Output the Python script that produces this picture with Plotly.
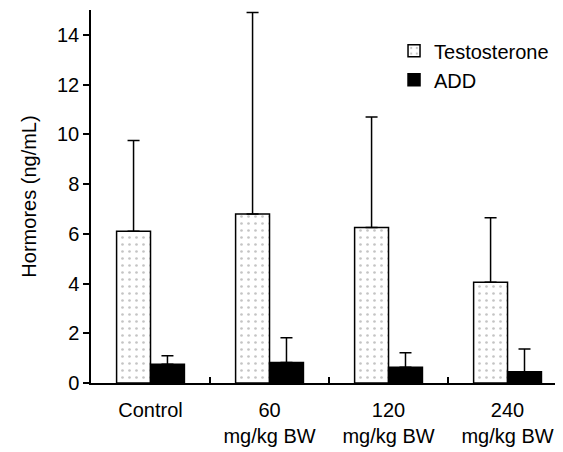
import plotly.graph_objects as go

categories = ["Control", "60<br>mg/kg BW", "120<br>mg/kg BW", "240<br>mg/kg BW"]
testosterone = [6.1, 6.8, 6.25, 4.05]
testosterone_err = [3.65, 8.1, 4.45, 2.6]
add = [0.75, 0.82, 0.63, 0.45]
add_err = [0.35, 1.0, 0.59, 0.92]

FONT = "Liberation Sans, Arial, sans-serif"
FS = 20

fig = go.Figure()
fig.add_trace(go.Bar(
    name="Testosterone", x=categories, y=testosterone,
    marker=dict(color="white", line=dict(color="black", width=1.5),
                pattern=dict(shape=".", fgcolor="#8a8a8a", bgcolor="white", size=7, solidity=0.12)),
    error_y=dict(type="data", symmetric=False, array=testosterone_err,
                 arrayminus=[0] * 4, color="black", thickness=1.5, width=6),
))
fig.add_trace(go.Bar(
    name="ADD", x=categories, y=add,
    marker=dict(color="black", line=dict(color="black", width=1.5)),
    error_y=dict(type="data", symmetric=False, array=add_err,
                 arrayminus=[0] * 4, color="black", thickness=1.5, width=6),
))

fig.update_layout(
    width=555, height=444,
    margin=dict(l=83, r=0, t=2, b=69),
    paper_bgcolor="white", plot_bgcolor="white",
    barmode="group", bargap=0.43, bargroupgap=0,
    font=dict(family=FONT, size=FS, color="black"),
    showlegend=True,
    legend=dict(x=0.642, y=0.943, xanchor="left", yanchor="top",
                bgcolor="rgba(0,0,0,0)", font=dict(size=FS), tracegroupgap=0),
    xaxis=dict(range=[-0.5, 3.466], showline=True, linecolor="black", linewidth=1.5,
               ticks="inside", tickson="boundaries", ticklen=6, tickcolor="black",
               tickwidth=1.5, showgrid=False, tickfont=dict(size=FS),
               ticklabelstandoff=8),
    yaxis=dict(range=[0, 15], showline=True, linecolor="black", linewidth=1.5,
               ticks="outside", ticklen=6, tickcolor="black", tickwidth=1.5,
               tickvals=[0, 2, 4, 6, 8, 10, 12, 14], showgrid=False, zeroline=False,
               title=dict(text="Hormores (ng/mL)", font=dict(size=FS), standoff=15),
               tickfont=dict(size=FS)),
)

fig.write_html("out.html")
